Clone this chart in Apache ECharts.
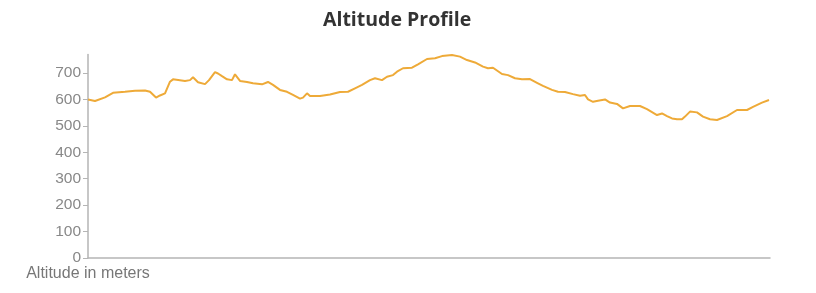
<!DOCTYPE html>
<html>
<head>
<meta charset="utf-8">
<script src="https://cdn.jsdelivr.net/npm/echarts@6/dist/echarts.min.js"></script>
<style>
html,body{margin:0;padding:0;background:#fff;}
#chart{width:816px;height:293px;}
</style>
</head>
<body>
<div id="chart"></div>
<script>
// Distance along route (km)
const distance = [0.0,0.7,1.7,2.5,3.7,4.7,5.7,6.2,6.8,7.2,7.7,8.2,8.5,9.7,10.2,10.5,11.0,11.7,12.1,12.7,13.0,13.4,13.9,14.4,14.7,15.2,15.9,16.5,17.4,18.0,18.5,19.2,19.9,20.5,21.2,21.5,21.9,22.2,23.2,24.2,25.2,26.0,26.7,27.4,28.2,28.7,29.4,29.9,30.5,30.9,31.5,32.4,33.0,33.9,34.7,35.4,36.4,37.2,37.9,38.7,39.5,40.0,40.5,41.4,42.0,42.7,43.4,44.2,44.9,45.5,46.4,47.0,47.7,48.5,49.2,49.7,50.0,50.5,51.0,51.7,52.2,52.9,53.5,54.2,55.2,55.9,56.9,57.4,57.9,58.4,58.9,59.4,59.7,60.2,60.9,61.5,62.2,62.9,63.9,64.9,65.9,66.5,67.4,68.1];
// Altitude in meters
const altitude = [600,594,608,625,629,633,634,629,607,615,623,667,676,670,673,684,665,658,673,703,698,688,676,673,695,670,666,661,657,666,655,636,629,617,603,607,623,613,613,619,628,629,642,655,673,680,673,686,692,705,718,720,733,753,756,764,768,762,749,740,724,718,720,696,692,680,676,677,663,651,636,629,628,620,614,617,600,591,595,600,588,583,566,575,575,563,541,547,537,528,525,525,535,554,551,535,525,522,537,560,560,572,588,598];
const yTicks = [0,100,200,300,400,500,600,700];
const titleText = 'Altitude Profile';
const yName = 'Altitude in meters';

const chart = echarts.init(document.getElementById('chart'), null, {renderer:'canvas'});
chart.setOption({
  animation:false,
  title:{
    text:titleText, left:323, top:10, padding:0,
    textStyle:{fontFamily:'Open Sans', fontWeight:'bold', fontSize:19.5, color:'#333'}
  },
  grid:{left:88, right:46, top:54.5, bottom:35, containLabel:false},
  xAxis:{
    type:'value', min:0, max:68.2,
    axisLine:{show:true, onZero:false, lineStyle:{color:'#b5b5b5', width:1.5}},
    axisTick:{show:false}, axisLabel:{show:false}, splitLine:{show:false}
  },
  yAxis:{
    type:'value', min:0, max:770,
    name:yName, nameLocation:'start', nameGap:4,
    nameTextStyle:{fontFamily:'Liberation Sans', fontSize:16, color:'#777', verticalAlign:'top', align:'center'},
    axisLine:{show:true, lineStyle:{color:'#b5b5b5', width:1.5}},
    axisTick:{show:true, length:5, customValues:yTicks, lineStyle:{color:'#b5b5b5'}},
    axisLabel:{customValues:yTicks, margin:7, fontFamily:'Liberation Sans', fontSize:15.5, color:'#888'},
    splitLine:{show:false}
  },
  series:[{
    type:'line', data:distance.map((d,i)=>[d, altitude[i]]),
    showSymbol:false, smooth:false,
    lineStyle:{color:'#eeaa38', width:2},
    itemStyle:{color:'#eeaa38'}
  }]
});
</script>
</body>
</html>
